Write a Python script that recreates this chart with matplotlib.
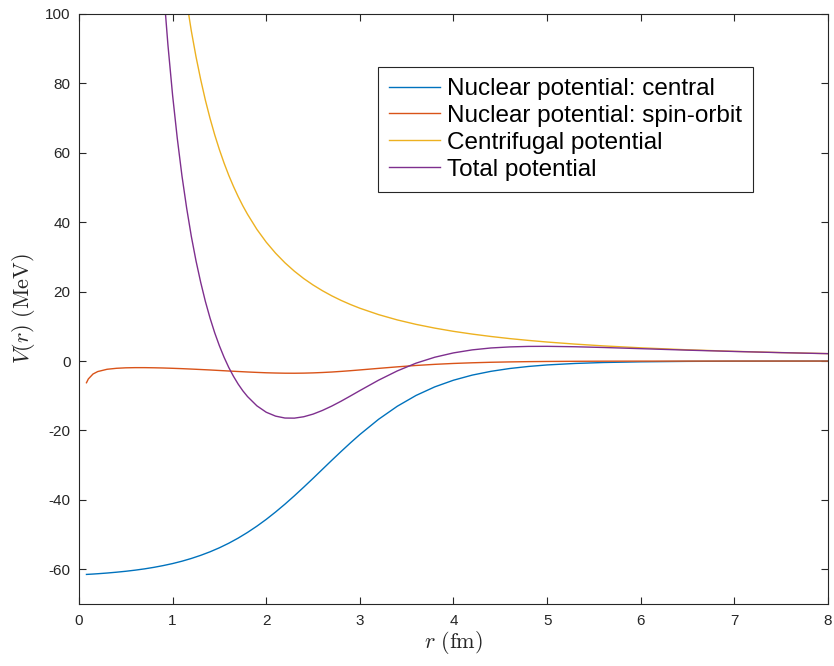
import matplotlib
matplotlib.use("Agg")
import matplotlib.pyplot as plt

# radius grid (fm)
r = [0.08, 0.1, 0.15, 0.2, 0.3, 0.4, 0.5, 0.6, 0.7, 0.8, 0.9, 1.0, 1.1, 1.2, 1.3,
     1.4, 1.5, 1.6, 1.7, 1.8, 1.9, 2.0, 2.1, 2.2, 2.3, 2.4, 2.5, 2.6, 2.7, 2.8,
     2.9, 3.0, 3.2, 3.4, 3.6, 3.8, 4.0, 4.2, 4.4, 4.6, 4.8, 5.0, 5.3, 5.6, 6.0,
     6.5, 7.0, 7.5, 8.0]

# nuclear central potential (MeV)
v_central = [-61.48, -61.45, -61.37, -61.28, -61.08, -60.84, -60.57, -60.25, -59.88,
             -59.44, -58.93, -58.35, -57.67, -56.88, -55.98, -54.96, -53.80, -52.49,
             -51.02, -49.38, -47.58, -45.62, -43.49, -41.23, -38.84, -36.35, -33.80,
             -31.20, -28.60, -26.05, -23.56, -21.17, -16.78, -13.02, -9.91, -7.44,
             -5.52, -4.05, -2.96, -2.15, -1.56, -1.12, -0.69, -0.42, -0.22, -0.09,
             -0.04, -0.02, -0.01]

# nuclear spin-orbit potential (MeV)
v_so = [-6.25, -5.16, -3.73, -3.03, -2.37, -2.09, -1.95, -1.90, -1.90, -1.94, -2.00,
        -2.09, -2.19, -2.31, -2.44, -2.57, -2.72, -2.87, -3.01, -3.15, -3.27, -3.38,
        -3.45, -3.50, -3.51, -3.48, -3.41, -3.30, -3.16, -2.98, -2.78, -2.56, -2.11,
        -1.67, -1.27, -0.95, -0.69, -0.50, -0.35, -0.25, -0.17, -0.12, -0.07, -0.04,
        -0.02, -0.01, 0.0, 0.0, 0.0]

# centrifugal potential (MeV), finer grid where it is steep
r_cf = [1.1, 1.15, 1.2, 1.25, 1.3, 1.35, 1.4, 1.45, 1.5, 1.55, 1.6, 1.65, 1.7, 1.75,
        1.8, 1.9, 2.0, 2.1, 2.2, 2.3, 2.4, 2.5, 2.6, 2.7, 2.8, 2.9, 3.0, 3.2, 3.4,
        3.6, 3.8, 4.0, 4.2, 4.4, 4.6, 4.8, 5.0, 5.3, 5.6, 6.0, 6.5, 7.0, 7.5, 8.0]
v_cf = [113.2, 103.6, 95.1, 87.68, 81.1, 75.17, 69.9, 65.16, 60.9, 57.02, 53.5, 50.32,
        47.4, 44.73, 42.3, 37.95, 34.25, 31.07, 28.31, 25.90, 23.78, 21.92, 20.27,
        18.79, 17.47, 16.29, 15.22, 13.38, 11.85, 10.57, 9.49, 8.56, 7.77, 7.08,
        6.47, 5.95, 5.48, 4.88, 4.37, 3.81, 3.24, 2.80, 2.44, 2.14]

# total potential (MeV)
r_tot = [0.85, 0.9, 0.95, 1.0, 1.05, 1.1, 1.15, 1.2, 1.25, 1.3, 1.35, 1.4, 1.45, 1.5,
         1.55, 1.6, 1.65, 1.7, 1.75, 1.8, 1.9, 2.0, 2.1, 2.2, 2.3, 2.4, 2.5, 2.6,
         2.7, 2.8, 2.9, 3.0, 3.2, 3.4, 3.6, 3.8, 4.0, 4.2, 4.4, 4.6, 4.8, 5.0, 5.3,
         5.6, 6.0, 6.5, 7.0, 7.5, 8.0]
v_tot = [128.4, 108.2, 91.11, 76.56, 64.15, 53.34, 44.07, 35.91, 28.86, 22.68, 17.18,
         12.37, 8.11, 4.38, 1.07, -1.86, -4.39, -6.63, -8.57, -10.23, -12.90, -14.75,
         -15.87, -16.42, -16.45, -16.05, -15.29, -14.23, -12.97, -11.56, -10.05,
         -8.51, -5.51, -2.84, -0.61, 1.10, 2.35, 3.22, 3.77, 4.07, 4.22, 4.24, 4.12,
         3.91, 3.57, 3.14, 2.76, 2.42, 2.13]

labels = ["Nuclear potential: central", "Nuclear potential: spin-orbit",
          "Centrifugal potential", "Total potential"]
colors = ["#0072BD", "#D95319", "#EDB120", "#7E2F8E"]

plt.rcParams['font.family'] = ['Liberation Sans', 'DejaVu Sans']
plt.rcParams['mathtext.fontset'] = 'cm'
plt.rcParams['axes.unicode_minus'] = False

fig = plt.figure(figsize=(8.34, 6.66), dpi=100)
ax = fig.add_axes([0.0947, 0.0931, 0.8981, 0.8859])

ax.plot(r, v_central, color=colors[0], lw=1.0, label=labels[0])
ax.plot(r, v_so, color=colors[1], lw=1.0, label=labels[1])
ax.plot(r_cf, v_cf, color=colors[2], lw=1.0, label=labels[2])
ax.plot(r_tot, v_tot, color=colors[3], lw=1.0, label=labels[3])

ax.set_xlim(0, 8)
ax.set_ylim(-70, 100)
ax.set_xticks(range(0, 9))
ax.set_yticks(range(-60, 101, 20))

axcol = "#262626"
for s in ax.spines.values():
    s.set_color(axcol)
    s.set_linewidth(0.8)
ax.tick_params(direction='in', top=True, right=True, length=5, width=0.8,
               colors=axcol, labelsize=11)
ax.tick_params(axis='x', pad=7)
ax.tick_params(axis='y', pad=6)

ax.set_xlabel(r'$r\ \mathrm{(fm)}$', fontsize=16, color=axcol, labelpad=1)
ax.set_ylabel(r'$V(r)\ \mathrm{(MeV)}$', fontsize=16, color=axcol, labelpad=6)

leg = ax.legend(loc='upper left', bbox_to_anchor=(0.399, 0.910), borderaxespad=0,
                fontsize=17.5, fancybox=False, framealpha=1, edgecolor=axcol,
                handlelength=2.1, handletextpad=0.3, labelspacing=0.2,
                borderpad=0.45)
leg.get_frame().set_linewidth(0.8)

fig.savefig("out.png", dpi=100)
